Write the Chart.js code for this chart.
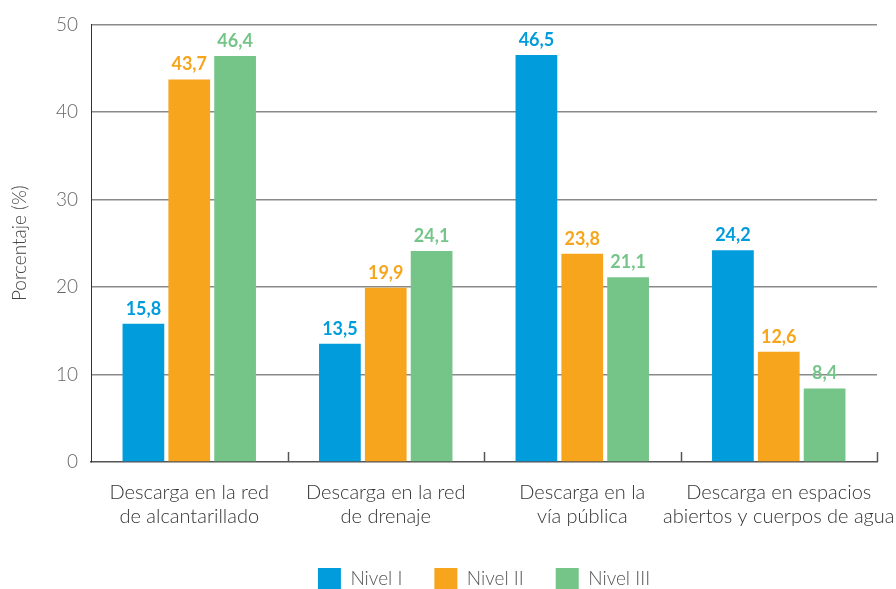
<!DOCTYPE html>
<html>
<head>
<meta charset="utf-8">
<script src="https://cdn.jsdelivr.net/npm/chart.js@4.4.1/dist/chart.umd.min.js"></script>
<style>
  html, body { margin: 0; padding: 0; background: #fff; }
  #wrap { width: 896px; height: 589px; }
</style>
</head>
<body>
<div id="wrap"><canvas id="chart" width="896" height="589"></canvas></div>
<script>
const categories = [
    ['Descarga en la red', 'de alcantarillado'],
    ['Descarga en la red', 'de drenaje'],
    ['Descarga en la', 'vía pública'],
    ['Descarga en espacios', 'abiertos y cuerpos de agua']
];
const seriesNames = ['Nivel I', 'Nivel II', 'Nivel III'];
const nivel1 = [15.8, 13.5, 46.5, 24.2];
const nivel2 = [43.7, 19.9, 23.8, 12.6];
const nivel3 = [46.4, 24.1, 21.1, 8.4];
const colors = ['#009cdc', '#f6a51c', '#75c589'];

const FONT = 'Lato, "Open Sans", sans-serif';

// value labels above each bar, in the series colour
const barLabels = {
    id: 'barLabels',
    afterDatasetsDraw(chart) {
        const ctx = chart.ctx;
        ctx.save();
        ctx.font = 'bold 18px ' + FONT;
        ctx.textAlign = 'center';
        ctx.textBaseline = 'bottom';
        chart.data.datasets.forEach((ds, i) => {
            chart.getDatasetMeta(i).data.forEach((bar, j) => {
                ctx.fillStyle = ds.backgroundColor;
                ctx.fillText(ds.data[j].toFixed(1).replace('.', ','), bar.x, bar.y - 6);
            });
        });
        ctx.restore();
    }
};

// small upward ticks between categories on the x axis
const categoryTicks = {
    id: 'categoryTicks',
    afterDraw(chart) {
        const x = chart.scales.x;
        const bottom = chart.chartArea.bottom;
        const step = (x.right - x.left) / categories.length;
        const ctx = chart.ctx;
        ctx.save();
        ctx.strokeStyle = '#555';
        ctx.lineWidth = 1.5;
        for (let i = 1; i <= categories.length; i++) {
            const px = Math.round(x.left + step * i) + 0.5;
            ctx.beginPath();
            ctx.moveTo(px, bottom);
            ctx.lineTo(px, bottom - 10);
            ctx.stroke();
        }
        ctx.restore();
    }
};

// centre the legend under the plot area instead of the whole canvas
const legendShift = {
    id: 'legendShift',
    afterLayout(chart) {
        const lg = chart.legend;
        const area = chart.chartArea;
        lg.left = area.left;
        lg.right = area.right;
        lg.width = area.right - area.left;
    }
};

new Chart(document.getElementById('chart'), {
    type: 'bar',
    data: {
        labels: categories,
        datasets: [nivel1, nivel2, nivel3].map((d, i) => ({
            label: seriesNames[i],
            data: d,
            backgroundColor: colors[i],
            categoryPercentage: 0.7,
            barPercentage: 0.91
        }))
    },
    options: {
        responsive: false,
        animation: false,
        layout: { padding: { top: 22, right: 19, left: 0, bottom: -11 } },
        plugins: {
            tooltip: { enabled: false },
            legend: {
                position: 'bottom',
                labels: {
                    boxWidth: 23,
                    boxHeight: 22,
                    padding: 32,
                    color: '#555',
                    font: { family: FONT, size: 19, weight: '300' }
                }
            }
        },
        scales: {
            x: {
                grid: { display: false },
                border: { color: '#555', width: 1.5 },
                ticks: {
                    color: '#333',
                    padding: 11,
                    autoSkip: false,
                    font: { family: FONT, size: 20, weight: '300' },
                    maxRotation: 0
                },
                afterFit(scale) {
                    scale.height = 74;
                    scale.paddingLeft = 0;
                    scale.paddingRight = 0;
                }
            },
            y: {
                min: 0,
                max: 50,
                ticks: {
                    stepSize: 10,
                    color: '#666',
                    padding: 13,
                    font: { family: FONT, size: 19, weight: '300' }
                },
                grid: {
                    drawTicks: false,
                    color: ctx => ctx.tick.value === 0 ? 'rgba(0,0,0,0)' : '#8a8a8a',
                    lineWidth: 1.5
                },
                border: { color: '#333', width: 1 },
                title: {
                    display: true,
                    text: 'Porcentaje (%)',
                    color: '#444',
                    padding: { top: 8, bottom: 10 },
                    font: { family: FONT, size: 19, weight: '300' }
                },
                afterFit(scale) { scale.width = 91; }
            }
        }
    },
    plugins: [barLabels, categoryTicks, legendShift]
});
</script>
</body>
</html>
